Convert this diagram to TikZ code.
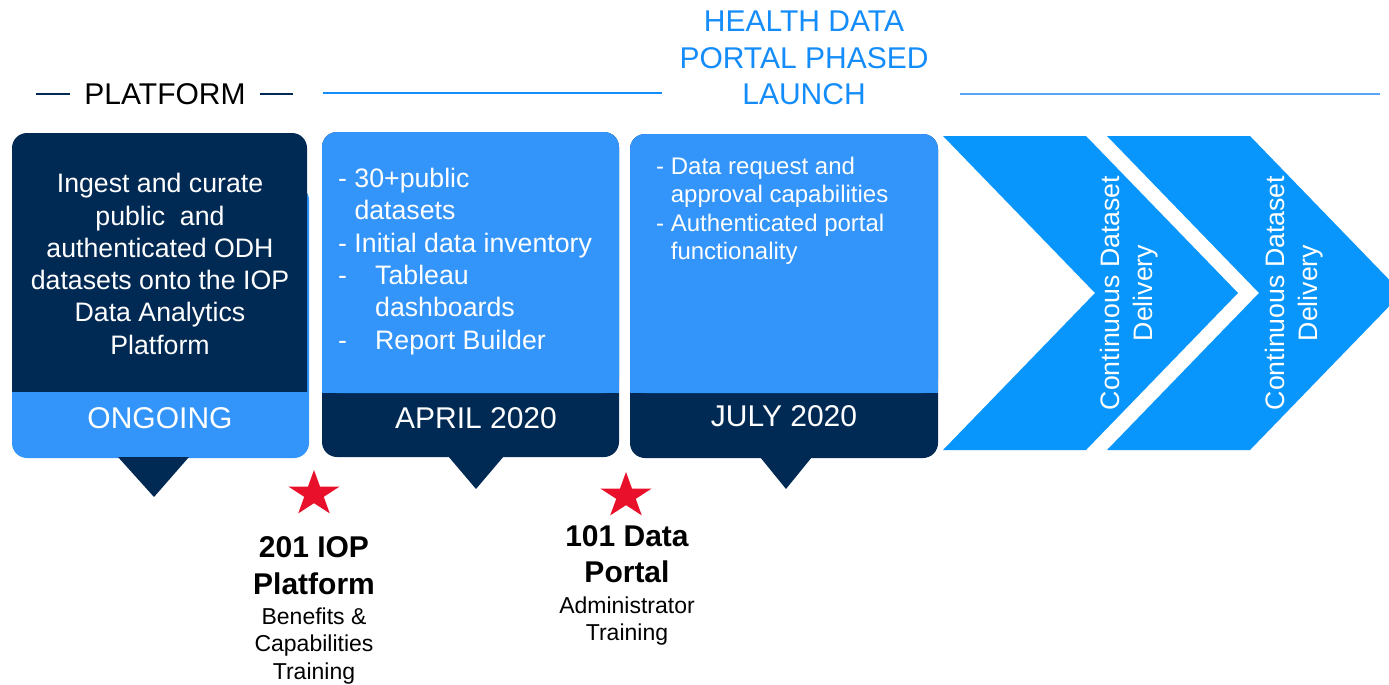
\documentclass[tikz,border=0pt]{standalone}
\usepackage{fontspec}
\setmainfont{Liberation Sans}
\usetikzlibrary{shapes.geometric}
\definecolor{navy}{RGB}{0,42,84}
\definecolor{lblue}{RGB}{51,148,250}
\definecolor{cblue}{RGB}{8,150,252}
\definecolor{tblue}{RGB}{20,140,250}
\definecolor{rblue}{RGB}{90,165,250}
\definecolor{sred}{RGB}{232,16,42}
\begin{document}
\begin{tikzpicture}[x=1pt,y=-1pt,
  wtxt/.style={text=white, inner sep=0pt},
  bodyfont/.style={font=\fontsize{26.7}{32.3}\selectfont},
  datefont/.style={font=\fontsize{30}{36}\selectfont},
  smallfont/.style={font=\fontsize{24}{28.5}\selectfont},
  pointer/.style={fill=navy},
  chev/.style={fill=cblue},
  redstar/.style={star, star points=5, star point ratio=2.618, minimum size=48pt, inner sep=0pt, fill=sred, draw=none, xscale=1.12},
  boldlbl/.style={inner sep=0pt, align=center, font=\bfseries\fontsize{30}{36.5}\selectfont},
  sublbl/.style={inner sep=0pt, align=center, font=\fontsize{23}{27.5}\selectfont}]
\useasboundingbox (0,0) rectangle (1389,685);
\clip (0,0) rectangle (1389,685);

% header
\node[inner sep=0pt, datefont] (plat) at (165,94) {PLATFORM};
\draw[navy, line width=2pt] (36,94) -- (70,94);
\draw[navy, line width=2pt] (260,94) -- (293,94);
\draw[tblue, line width=2pt] (323,93) -- (662,93);
\draw[rblue, line width=1.5pt] (960,94) -- (1380,94);
\node[inner sep=0pt, text=tblue, align=center, font=\fontsize{30}{36.5}\selectfont] (hdp) at (804,58) {HEALTH DATA\\PORTAL PHASED\\LAUNCH};

% box 1
\fill[lblue, rounded corners=15pt] (12,185) rectangle (309,458);
\fill[navy, rounded corners=15pt] (12,392) -- (12,133) -- (307,133) -- (307,392);
\fill[lblue] (12,392) rectangle (309,420);
\fill[pointer] (118,457) -- (189,457) -- (154,497) -- cycle;
\node[wtxt, bodyfont, align=center] (b1text) at (160,264) {Ingest and curate\\public\ \ and\\authenticated ODH\\datasets onto the IOP\\Data Analytics\\Platform};
\node[wtxt, datefont] (b1date) at (160,418) {ONGOING};

% box 2
\fill[navy, rounded corners=15pt] (322,132) rectangle (619,457);
\fill[lblue, rounded corners=15pt] (322,393) -- (322,132) -- (619,132) -- (619,393) -- cycle;
\fill[lblue] (322,370) rectangle (619,393);
\fill[pointer] (448,456) -- (504,456) -- (476,489) -- cycle;
\node[wtxt, bodyfont, align=left, anchor=north west] (b2text) at (338,168) {- 30+public\\\phantom{- }datasets\\- Initial data inventory\\\makebox[37pt][l]{-}Tableau\\\hspace*{37pt}dashboards\\\makebox[37pt][l]{-}Report Builder};
\node[wtxt, datefont] (b2date) at (476,418) {APRIL 2020};

% box 3
\fill[navy, rounded corners=15pt] (630,134) rectangle (938,458);
\fill[lblue, rounded corners=15pt] (630,393) -- (630,134) -- (938,134) -- (938,393) -- cycle;
\fill[lblue] (630,370) rectangle (938,393);
\fill[pointer] (760,457) -- (812,457) -- (786,489) -- cycle;
\node[wtxt, smallfont, align=left, anchor=north west] (b3text) at (656,156.5) {- Data request and\\\phantom{- }approval capabilities\\- Authenticated portal\\\phantom{- }functionality};
\node[wtxt, datefont] (b3date) at (784,416) {JULY 2020};

% chevrons
\fill[chev] (943,136) -- (1086,136) -- (1238,293) -- (1086,450) -- (943,450) -- (1095,293) -- cycle;
\fill[chev] (1107,136) -- (1250,136) -- (1402,293) -- (1250,450) -- (1107,450) -- (1259,293) -- cycle;
\node[wtxt, bodyfont, rotate=90, align=center] (c1text) at (1129,293) {Continuous Dataset\\Delivery};
\node[wtxt, bodyfont, rotate=90, align=center] (c2text) at (1294,293) {Continuous Dataset\\Delivery};

% trainings
\node[redstar] (star1) at (314,494) {};
\node[redstar] (star2) at (626,496) {};
\node[boldlbl] (t201) at (314,565.5) {201 IOP\\Platform};
\node[sublbl] (t201s) at (314,646) {Benefits \&\\Capabilities\\Training};
\node[boldlbl] (t101) at (627,554) {101 Data\\Portal};
\node[sublbl] (t101s) at (627,621) {Administrator\\Training};
\end{tikzpicture}
\end{document}
